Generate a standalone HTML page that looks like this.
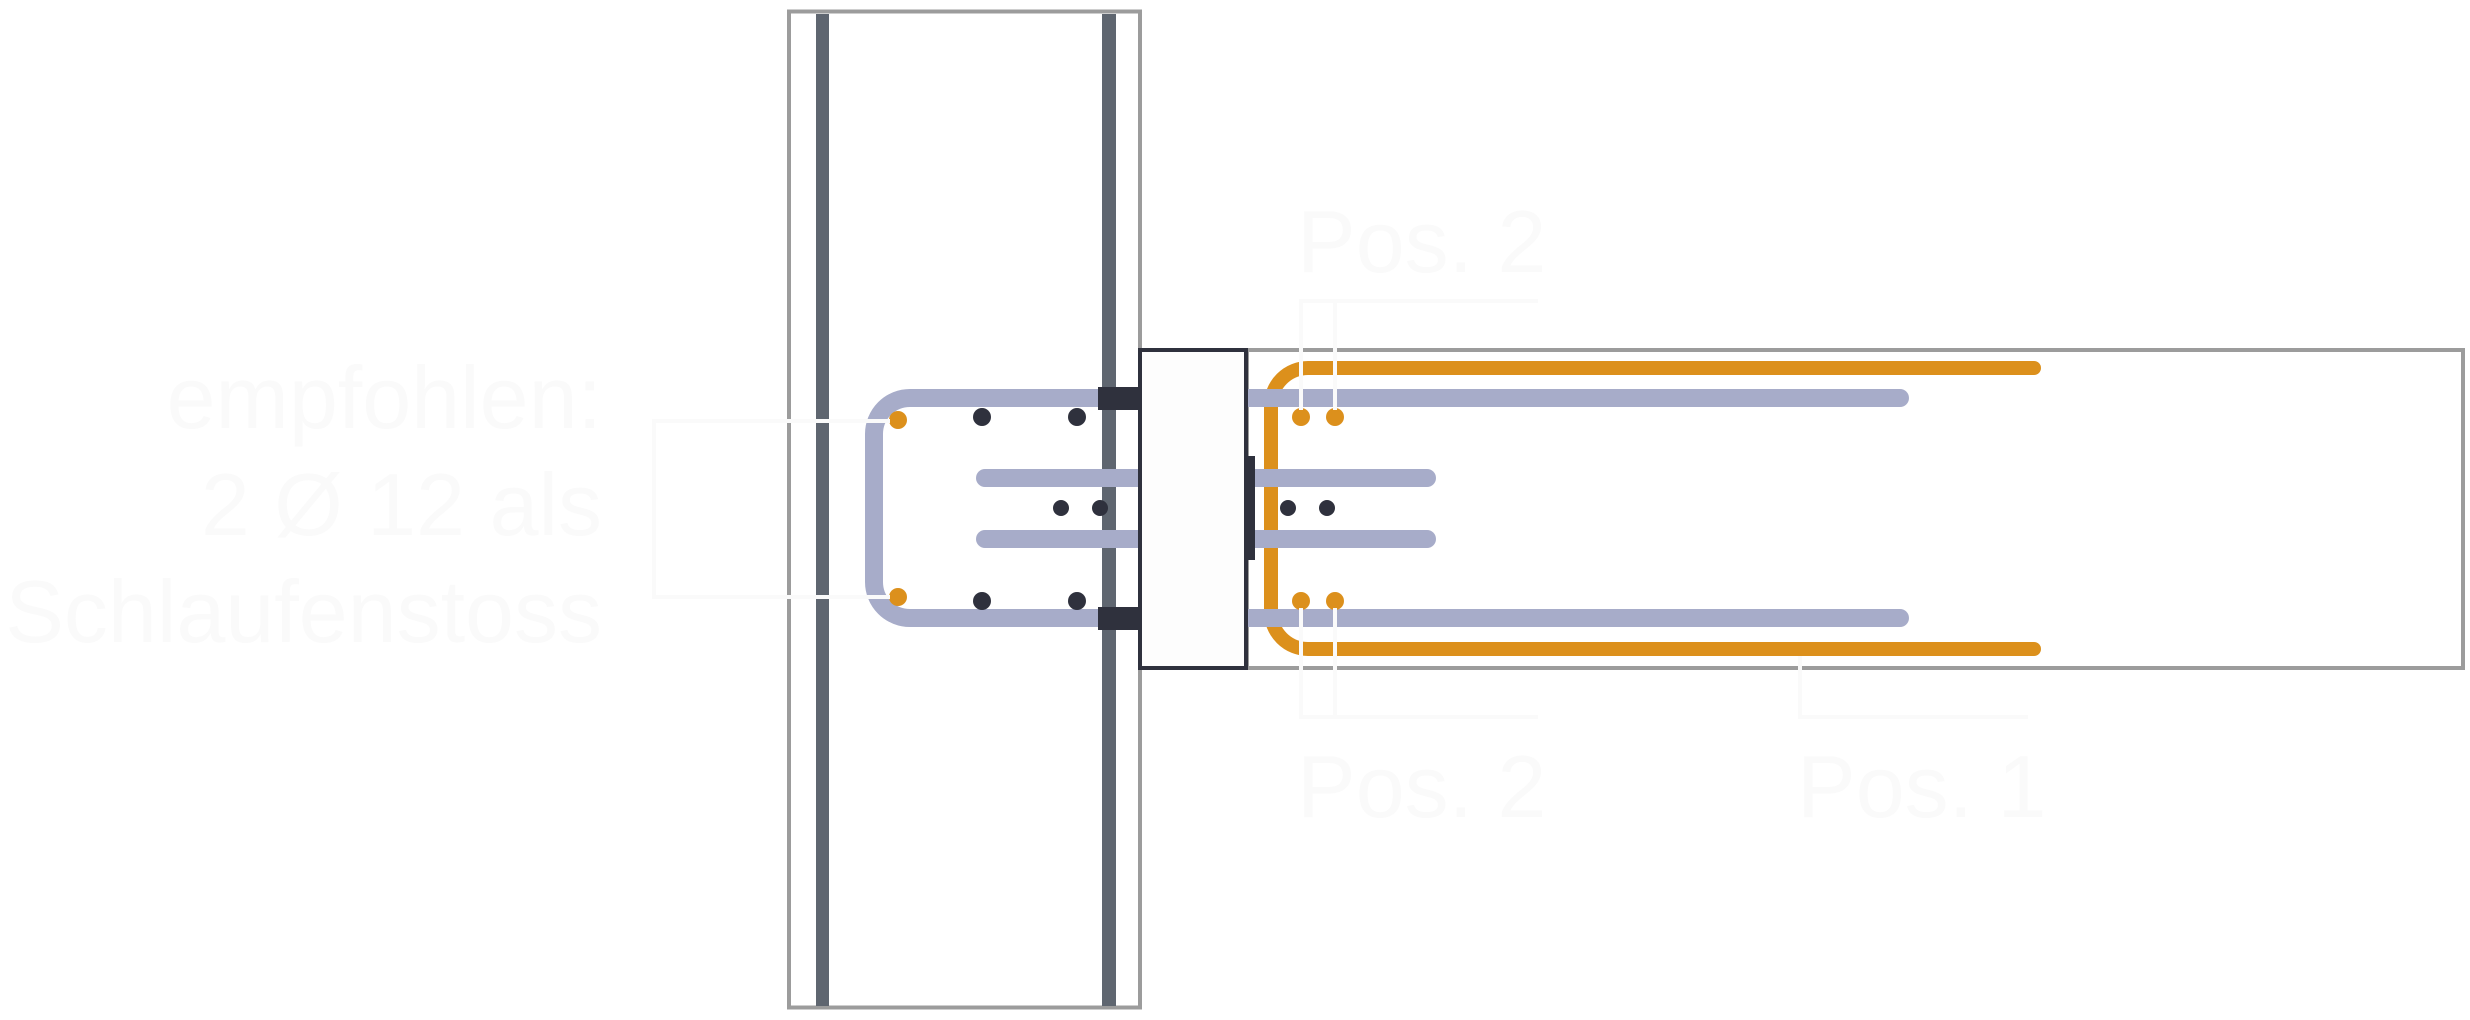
<!DOCTYPE html>
<html><head><meta charset="utf-8"><style>
html,body{margin:0;padding:0;background:#fff;}
svg{display:block;}
text{font-family:"Liberation Sans",sans-serif;fill:#fafafa;}
</style></head><body>
<svg width="2470" height="1020" viewBox="0 0 2470 1020" xmlns="http://www.w3.org/2000/svg">
<rect width="2470" height="1020" fill="#fff"/>
<!-- left wall -->
<rect x="789" y="11.5" width="351" height="996" fill="none" stroke="#9c9c9c" stroke-width="4"/>
<rect x="816" y="14" width="13" height="992" fill="#5f6670"/>
<rect x="1102" y="14" width="14" height="992" fill="#5f6670"/>
<!-- right slab -->
<rect x="1247" y="350" width="1216" height="318" fill="none" stroke="#9c9c9c" stroke-width="4"/>
<!-- orange loop (behind blue) -->
<path d="M2034 368 H1308 A37 37 0 0 0 1271 405 V612 A37 37 0 0 0 1308 649 H2034" fill="none" stroke="#dc901c" stroke-width="14" stroke-linecap="round"/>
<!-- left loop -->
<path d="M1100 398 H910 A36 36 0 0 0 874 434 V582 A36 36 0 0 0 910 618 H1100" fill="none" stroke="#a7acc9" stroke-width="18"/>
<line x1="985" y1="478" x2="1140" y2="478" stroke="#a7acc9" stroke-width="18" stroke-linecap="round"/>
<line x1="985" y1="539" x2="1140" y2="539" stroke="#a7acc9" stroke-width="18" stroke-linecap="round"/>
<!-- right bars -->
<line x1="1247" y1="398" x2="1900" y2="398" stroke="#a7acc9" stroke-width="18" stroke-linecap="round"/>
<line x1="1247" y1="618" x2="1900" y2="618" stroke="#a7acc9" stroke-width="18" stroke-linecap="round"/>
<line x1="1247" y1="478" x2="1427" y2="478" stroke="#a7acc9" stroke-width="18" stroke-linecap="round"/>
<line x1="1247" y1="539" x2="1427" y2="539" stroke="#a7acc9" stroke-width="18" stroke-linecap="round"/>
<!-- dark blocks -->
<rect x="1098" y="387" width="42" height="23" fill="#2f313d"/>
<rect x="1098" y="607" width="42" height="23" fill="#2f313d"/>
<rect x="1247" y="456" width="8" height="104" fill="#2f313d"/>
<!-- center box -->
<rect x="1140" y="350" width="106" height="318" fill="#fdfdfd" stroke="#2f313d" stroke-width="4"/>
<!-- dots -->
<g fill="#2f313d">
<circle cx="982" cy="417" r="9"/><circle cx="1077" cy="417" r="9"/>
<circle cx="982" cy="601" r="9"/><circle cx="1077" cy="601" r="9"/>
<circle cx="1061" cy="508" r="8"/><circle cx="1100" cy="508" r="8"/>
<circle cx="1288" cy="508" r="8"/><circle cx="1327" cy="508" r="8"/>
</g>
<g fill="#dc901c">
<circle cx="898" cy="420" r="9"/><circle cx="898" cy="597" r="9"/>
<circle cx="1301" cy="417" r="9"/><circle cx="1335" cy="417" r="9"/>
<circle cx="1301" cy="601" r="9"/><circle cx="1335" cy="601" r="9"/>
</g>
<!-- leader lines -->
<g stroke="#fafafa" stroke-width="4" fill="none">
<polyline points="890,421 654,421 654,597 890,597"/>
<polyline points="1301,410 1301,301 1538,301"/>
<line x1="1335" y1="301" x2="1335" y2="410"/>
<polyline points="1301,608 1301,717 1538,717"/>
<line x1="1335" y1="608" x2="1335" y2="717"/>
<polyline points="1800,656 1800,717 2028,717"/>
</g>
<!-- labels -->
<g font-size="88">
<text x="602" y="428" text-anchor="end">empfohlen:</text>
<text x="602" y="535" text-anchor="end">2 Ø 12 als</text>
<text x="602" y="642" text-anchor="end">Schlaufenstoss</text>
<text x="1297" y="272">Pos. 2</text>
<text x="1297" y="817">Pos. 2</text>
<text x="1797" y="817">Pos. 1</text>
</g>
</svg>
</body></html>
